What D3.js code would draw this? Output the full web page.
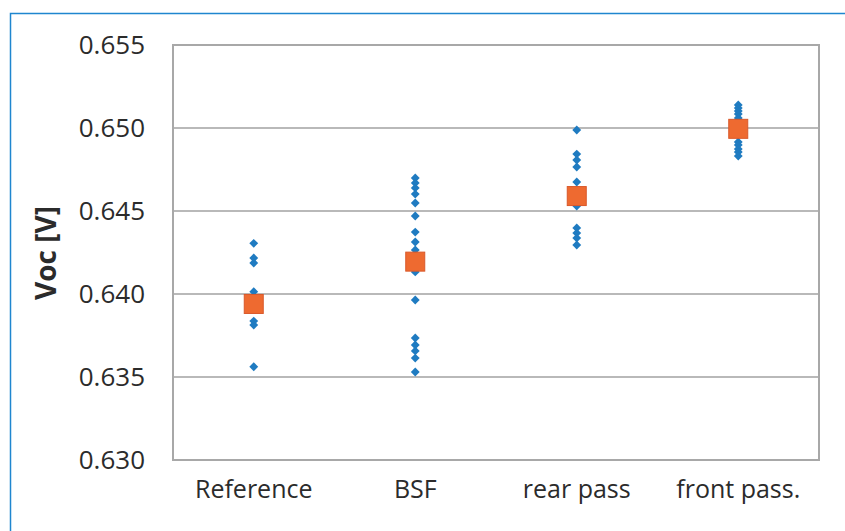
<!DOCTYPE html>
<html>
<head>
<meta charset="utf-8">
<script src="https://cdn.jsdelivr.net/npm/d3@7"></script>
<style>
  html, body { margin: 0; padding: 0; background: #fff; }
  svg { display: block; }
  text { font-family: "Open Sans", "Noto Sans", sans-serif; fill: #2b2b2b; }
</style>
</head>
<body>
<svg id="chart" width="845" height="531"></svg>
<script>
// ---- data ----
const categories = ["Reference", "BSF", "rear pass", "front pass."];
const yTicks = [0.630, 0.635, 0.640, 0.645, 0.650, 0.655];
const yTitle = "Voc [V]";

const refValues   = [0.64305, 0.64217, 0.64187, 0.64014, 0.63837, 0.63813, 0.63562];
const bsfValues   = [0.64699, 0.64669, 0.64639, 0.64602, 0.64548, 0.64470, 0.64373, 0.64313,
                     0.64265, 0.64133, 0.63964, 0.63735, 0.63693, 0.63657, 0.63614, 0.63530];
const rearValues  = [0.64988, 0.64843, 0.64807, 0.64765, 0.64675, 0.64530, 0.64398, 0.64367,
                     0.64337, 0.64295];
const frontValues = [0.65139, 0.65120, 0.65102, 0.65084, 0.65060, 0.64916, 0.64898, 0.64873,
                     0.64855, 0.64831];
const meanValues  = [0.63940, 0.64195, 0.64590, 0.64995];

const seriesValues = [refValues, bsfValues, rearValues, frontValues];

// ---- layout ----
const svg = d3.select("#chart");
const plot = { left: 173, right: 819, top: 45, bottom: 460 };

const x = d3.scaleBand().domain(categories).range([plot.left, plot.right]);
const y = d3.scaleLinear().domain([0.630, 0.655]).range([plot.bottom, plot.top]);

// outer blue frame (top and left edges)
svg.append("path")
  .attr("d", `M10.5,531 L10.5,13.5 L845,13.5`)
  .attr("fill", "none").attr("stroke", "#1f86cf").attr("stroke-width", 1.5);

// gridlines
svg.append("g").selectAll("line").data(yTicks.slice(1, -1)).join("line")
  .attr("x1", plot.left).attr("x2", plot.right)
  .attr("y1", d => y(d)).attr("y2", d => y(d))
  .attr("stroke", "#b9b9b9").attr("stroke-width", 2);

// plot frame
svg.append("rect")
  .attr("x", plot.left).attr("y", plot.top)
  .attr("width", plot.right - plot.left).attr("height", plot.bottom - plot.top)
  .attr("fill", "none").attr("stroke", "#a8a8a8").attr("stroke-width", 2);

// y axis tick labels
const yAxis = d3.axisLeft(y).tickValues(yTicks).tickFormat(d3.format(".3f")).tickSize(0).tickPadding(0);
const gy = svg.append("g").attr("transform", `translate(145,0)`).call(yAxis);
gy.select(".domain").remove();
gy.selectAll("text").attr("font-size", 26).attr("fill", "#2b2b2b")
  .style("font-family", '"Open Sans", sans-serif');

// x axis labels
const xAxis = d3.axisBottom(x).tickSize(0).tickPadding(0);
const gx = svg.append("g").attr("transform", `translate(0,${plot.bottom + 20})`).call(xAxis);
gx.select(".domain").remove();
gx.selectAll("text").attr("font-size", 25).attr("fill", "#2b2b2b")
  .style("font-family", '"Open Sans", sans-serif');

// y title
svg.append("text")
  .attr("transform", `translate(56,253) rotate(-90)`)
  .attr("text-anchor", "middle")
  .attr("font-size", 28).attr("font-weight", "bold").attr("fill", "#1e1e1e")
  .text(yTitle);

// individual points
const diamond = d3.symbol().type(d3.symbolDiamond2).size(50);
const pts = [];
seriesValues.forEach((vals, i) => vals.forEach(v => pts.push({ c: categories[i], v })));
svg.append("g").selectAll("path").data(pts).join("path")
  .attr("d", diamond)
  .attr("transform", d => `translate(${x(d.c) + x.bandwidth() / 2},${y(d.v)})`)
  .attr("fill", "#1f7bc1");

// mean squares
const sq = 19;
svg.append("g").selectAll("rect").data(meanValues).join("rect")
  .attr("x", (d, i) => x(categories[i]) + x.bandwidth() / 2 - sq / 2)
  .attr("y", d => y(d) - sq / 2)
  .attr("width", sq).attr("height", sq)
  .attr("fill", "#ee6a30").attr("stroke", "#d9582a").attr("stroke-width", 1);
</script>
</body>
</html>
